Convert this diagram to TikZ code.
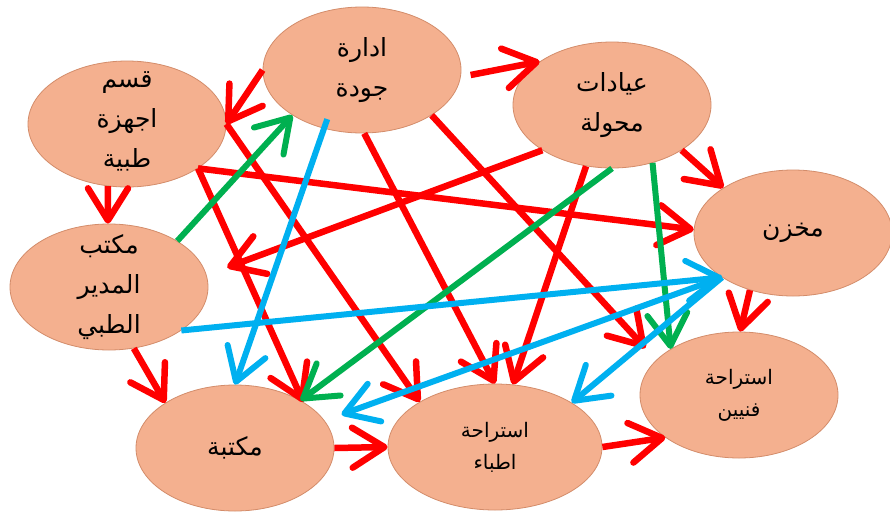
\documentclass[tikz,border=0pt]{standalone}
\usepackage{fontspec}
\newfontfamily\arabicfont[Script=Arabic]{DejaVu Sans}
\TeXXeTstate=1
\usetikzlibrary{arrows.meta,shapes.geometric}
\definecolor{nodefill}{HTML}{F4B08F}
\definecolor{nodeline}{HTML}{D38C6A}
\definecolor{arred}{HTML}{FF0000}
\definecolor{argreen}{HTML}{00B050}
\definecolor{arblue}{HTML}{00B0F0}
\newcommand{\rl}[1]{\beginR #1\endR}
\begin{document}
\begin{tikzpicture}[x=1pt,y=-1pt,
  room/.style={ellipse, fill=nodefill, draw=nodeline, line width=0.8pt,
    minimum width=198pt, minimum height=126pt, inner sep=0pt},
  roomtext/.style={align=center, inner sep=0pt, text=black,
    font=\arabicfont\fontsize{25}{40}\selectfont},
  smalltext/.style={roomtext, font=\arabicfont\fontsize{20}{32}\selectfont},
  link/.style={line width=6pt, -{Straight Barb[length=32pt,width=40pt,round]}},
  redlink/.style={link, draw=arred, line width=6.5pt},
  greenlink/.style={link, draw=argreen},
  bluelink/.style={link, draw=arblue}]
\fill[white] (0,0) rectangle (890,514);
\useasboundingbox (0,0) rectangle (890,514);
% rooms
\node[room] (Q) at (127,124) {};
\node[room] (A) at (362,70) {};
\node[room] (E) at (612,105) {};
\node[room] (M) at (793,233) {};
\node[room] (D) at (109,287) {};
\node[room] (L) at (235,448) {};
\node[room, minimum width=214pt] (P) at (495,447) {};
\node[room] (F) at (739,395) {};
% texts
\node[roomtext] (Qt) at (127,121) {\rl{قسم}\\\rl{اجهزة}\\\rl{طبية}};
\node[roomtext] (At) at (A) {\rl{ادارة}\\\rl{جودة}};
\node[roomtext] (Et) at (E) {\rl{عيادات}\\\rl{محولة}};
\node[roomtext] (Mt) at (M) {\rl{مخزن}};
\node[roomtext] (Dt) at (D) {\rl{مكتب}\\\rl{المدير}\\\rl{الطبي}};
\node[roomtext] (Lt) at (L) {\rl{مكتبة}};
\node[smalltext] (Pt) at (P) {\rl{استراحة}\\\rl{اطباء}};
\node[smalltext] (Ft) at (F) {\rl{استراحة}\\\rl{فنيين}};
% red connectors
\draw[redlink] (A.180) -- (Q.0);
\draw[redlink, shorten <=10pt] (A.-4) -- (E.149);
\draw[redlink] (Q.-107) -- (D.91);
\draw[redlink] (E.-33) -- (M.147);
\draw[redlink] (M.-127) -- (F.89);
\draw[redlink] (D.-68) -- (L.147);
\draw[redlink] (L.0) -- (P.180);
\draw[redlink] (P.0) -- (F.210);
\draw[redlink] (Q.-32) -- (M.178);
\draw[redlink, shorten >=22pt] (E.-147) -- (D.7);
\draw[redlink] (Q.-32) -- (L.34);
\draw[redlink] (Q.0) -- (P.149);
\draw[redlink] (A.-88) -- (P.90);
\draw[redlink, shorten >=16pt] (A.-33) -- (F.157);
\draw[redlink] (E.-113) -- (P.74);
% green connectors
\draw[greenlink] (D.34) -- (A.-147);
\draw[greenlink] (E.-90) -- (L.36);
\draw[greenlink] (E.-55) -- (F.146);
% blue connectors
\draw[bluelink, shorten <=-10pt] (A.-123) -- (L.90);
\draw[bluelink] (D.-31) -- (M.-148);
\draw[bluelink, shorten >=18pt] (M.-148) -- (L.17);
\draw[bluelink] (M.-148) -- (P.30);
\end{tikzpicture}
\end{document}
